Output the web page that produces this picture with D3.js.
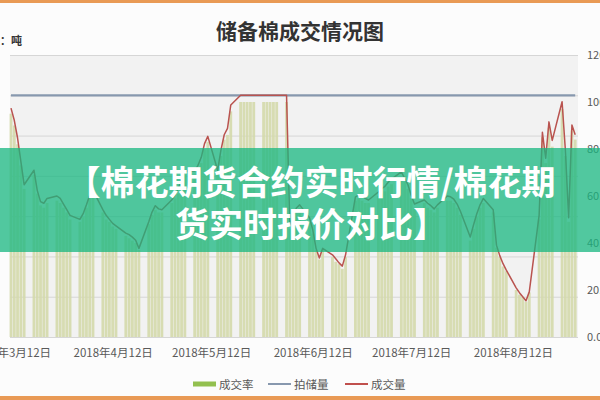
<!DOCTYPE html>
<html>
<head>
<meta charset="utf-8">
<script src="https://cdn.jsdelivr.net/npm/d3@7"></script>
<style>
  html, body { margin: 0; padding: 0; background: #fcfcfc; }
  svg { display: block; font-family: "Noto Sans CJK SC", "Noto Sans", sans-serif; }
</style>
</head>
<body>
<svg id="chart" width="600" height="400"></svg>
<script>
// ---------------- data ----------------
const title = "储备棉成交情况图";
const unitLabel = "单位：吨";
const bannerLines = ["【棉花期货合约实时行情/棉花期", "货实时报价对比】"];
const seriesNames = ["成交率", "拍储量", "成交量"];
const startDate = "2018-03-12";
const endDate = "2018-08-31";
const tickDates = ["2018-03-12", "2018-04-12", "2018-05-12", "2018-06-12", "2018-07-12", "2018-08-12"];
const rightTicks = [0, 0.2, 0.4, 0.6, 0.8, 1.0, 1.2];
const leftTicks = [0, 5000, 10000, 15000, 20000, 25000, 30000, 35000];

// 成交量 (tons), one value per trading day (Mon–Fri), week by week
const dealVolume = [
  28400, 26900, 24700, 21800, 18900,
  20700, 18200, 16800, 16600, 17200,
  17500, 17200, 16500, 15800, 15100,
  14600, 15300, 16400, 17600, 18200,
  15800, 15100, 14600, 14100, 13800,
  12900, 12700, 12400, 12000, 11000,
  14300, 15500, 16300, 15900, 15800,
  17000, 17600, 18400, 19700, 20600,
  20600, 21300, 22300, 24000, 24900,
  20700, 23200, 25100, 25900, 28800,
  30000, 30000, 30000, 30000, 30000,
  30000, 30000, 30000, 30000, 30000,
  30000, 13900, 15100, 16000, 16400,
  14800, 13300, 11000, 9800, 11000,
  10200, 9700, 9200, 8800, 10200,
  17400, 17600, 17500, 17200, 17000,
  18000, 18400, 18700, 19200, 19600,
  20500, 19700, 18900, 17600, 16500,
  17000, 16600, 16300, 15900, 16400,
  17500, 17400, 17100, 16500, 15600,
  12400, 13900, 15300, 16400, 17200,
  15800, 11400, 10100, 9100, 8300,
  6100, 5500, 5000, 4500, 5600,
  15100, 25400, 22200, 26700, 24400,
  29200, 23200, 14800, 26300, 25100
];

// 成交率 (%), one value per trading day
const dealRate = [
  95, 90, 82, 73, 63,
  69, 61, 56, 55, 57,
  58, 57, 55, 53, 50,
  49, 51, 55, 59, 61,
  53, 50, 49, 47, 46,
  43, 42, 41, 40, 37,
  48, 52, 54, 53, 53,
  57, 59, 61, 66, 69,
  69, 71, 74, 80, 83,
  69, 77, 84, 86, 96,
  100, 100, 100, 100, 100,
  100, 100, 100, 100, 100,
  100, 46, 50, 53, 55,
  49, 44, 37, 33, 37,
  34, 32, 31, 29, 34,
  58, 59, 58, 57, 57,
  60, 61, 62, 64, 65,
  68, 66, 63, 59, 55,
  57, 55, 54, 53, 55,
  58, 58, 57, 55, 52,
  41, 46, 51, 55, 57,
  53, 38, 34, 30, 28,
  20, 18, 17, 15, 19,
  50, 85, 74, 89, 81,
  97, 77, 49, 88, 84
];

// 拍储量 (tons offered per day), one value per week
const auctionVolumeByWeek = [
  30000, 30000, 30000, 30000, 30000, 30000, 30000, 30000, 30000, 30000,
  30000, 30000, 30000, 30000, 30000, 30000, 30000, 30000, 30000, 30000,
  30000, 30000, 30000, 30000, 30000
];

// ---------------- build ----------------
const parse = d3.timeParse("%Y-%m-%d");
const tradingDays = d3.timeDay.range(parse(startDate), d3.timeDay.offset(parse(endDate), 1))
  .filter(d => d.getDay() !== 0 && d.getDay() !== 6);
const rows = tradingDays.map((d, i) => ({
  date: d,
  vol: dealVolume[i],
  rate: dealRate[i] / 100,
  offer: auctionVolumeByWeek[Math.floor(i / 5)]
}));

const svg = d3.select("#chart");
const W = 600, H = 400;
const plot = { left: 10, right: 578, top: 55, bottom: 337 };

// frame decoration
svg.append("rect").attr("x", 0).attr("y", 0).attr("width", W).attr("height", H).attr("fill", "#fcfcfc");
svg.append("rect").attr("x", 0).attr("y", 0).attr("width", W).attr("height", 3).attr("fill", "#e99a55");
svg.append("rect").attr("x", 0).attr("y", 396).attr("width", W).attr("height", 4).attr("fill", "#e99a55");

const x = d3.scaleTime().domain([parse(startDate), parse(endDate)]).range([11, 575.2]);
const yL = d3.scaleLinear().domain([0, 35000]).range([plot.bottom, plot.top]);
const yR = d3.scaleLinear().domain([0, 1.2]).range([plot.bottom, plot.top]);

// plot background
svg.append("rect").attr("x", plot.left).attr("y", plot.top)
  .attr("width", plot.right - plot.left).attr("height", plot.bottom - plot.top)
  .attr("fill", "#f2f2f2");

// gridlines (left axis)
const gl = svg.append("g").attr("transform", `translate(${plot.left},0)`)
  .call(d3.axisLeft(yL).tickValues(leftTicks).tickSize(-(plot.right - plot.left)).tickFormat(""));
gl.select(".domain").remove();
gl.selectAll(".tick line").attr("stroke", "#d6d6d6").attr("stroke-width", 1);

// bars: 成交率
const bw = 2.8;
svg.append("g").selectAll("rect").data(rows).join("rect")
  .attr("x", d => x(d.date) - bw / 2)
  .attr("y", d => yR(d.rate))
  .attr("width", bw)
  .attr("height", d => plot.bottom - yR(d.rate))
  .attr("fill", "#d4d9ab")
  .attr("opacity", 0.9);

// line: 拍储量
svg.append("path").datum(rows)
  .attr("fill", "none").attr("stroke", "#8798ae").attr("stroke-width", 2.2)
  .attr("d", d3.line().x(d => x(d.date)).y(d => yL(d.offer)));

// line: 成交量
svg.append("path").datum(rows)
  .attr("fill", "none").attr("stroke", "#b9534f").attr("stroke-width", 1.5)
  .attr("stroke-linejoin", "round")
  .attr("d", d3.line().x(d => x(d.date)).y(d => yL(d.vol)));

// right axis
const ra = svg.append("g").attr("transform", `translate(${plot.right + 7},0)`)
  .call(d3.axisRight(yR).tickValues(rightTicks).tickSize(0).tickFormat(d3.format(".2%")));
ra.select(".domain").remove();
ra.selectAll("text").attr("fill", "#595959").style("font-size", "11px")
  .style("font-family", "'Noto Sans CJK SC', sans-serif").attr("x", 2);

// bottom axis
const xa = svg.append("g").attr("transform", `translate(0,${plot.bottom})`)
  .call(d3.axisBottom(x).tickValues(tickDates.map(parse)).tickSize(0)
    .tickFormat(d3.timeFormat("%Y年%-m月%-d日")));
xa.select(".domain").remove();
xa.selectAll("text").attr("fill", "#595959").style("font-size", "11.5px")
  .style("font-family", "'Noto Sans CJK SC', sans-serif").attr("y", 12);

// title
svg.append("text").attr("x", 300).attr("y", 30).attr("text-anchor", "middle")
  .attr("dominant-baseline", "central")
  .attr("fill", "#333333").style("font-size", "21px").style("font-weight", "bold")
  .text(title);

// unit
svg.append("text").attr("x", 22).attr("y", 40).attr("text-anchor", "end")
  .attr("dominant-baseline", "central")
  .attr("fill", "#333").style("font-size", "11px").style("font-weight", "bold")
  .text(unitLabel);

// legend
const lg = svg.append("g");
const ly = 384;
lg.append("rect").attr("x", 193).attr("y", ly - 2.5).attr("width", 23).attr("height", 5).attr("fill", "#93c04f");
lg.append("text").attr("x", 219).attr("y", ly).attr("dominant-baseline", "central")
  .attr("fill", "#595959").style("font-size", "11.5px").text(seriesNames[0]);
lg.append("line").attr("x1", 268).attr("x2", 291).attr("y1", ly).attr("y2", ly)
  .attr("stroke", "#8798ae").attr("stroke-width", 2);
lg.append("text").attr("x", 294).attr("y", ly).attr("dominant-baseline", "central")
  .attr("fill", "#595959").style("font-size", "11.5px").text(seriesNames[1]);
lg.append("line").attr("x1", 345).attr("x2", 368).attr("y1", ly).attr("y2", ly)
  .attr("stroke", "#c0504d").attr("stroke-width", 2);
lg.append("text").attr("x", 371).attr("y", ly).attr("dominant-baseline", "central")
  .attr("fill", "#595959").style("font-size", "11.5px").text(seriesNames[2]);

// banner overlay
svg.append("rect").attr("x", 0).attr("y", 148).attr("width", W).attr("height", 104)
  .attr("fill", "rgb(24,183,128)").attr("opacity", 0.75);
const bannerY = [180, 222];
svg.append("g").selectAll("text").data(bannerLines).join("text")
  .attr("x", 311).attr("y", (d, i) => bannerY[i])
  .attr("text-anchor", "middle").attr("dominant-baseline", "central")
  .attr("fill", "#ffffff").style("font-size", "34px").style("font-weight", "bold")
  .text(d => d);
</script>
</body>
</html>
